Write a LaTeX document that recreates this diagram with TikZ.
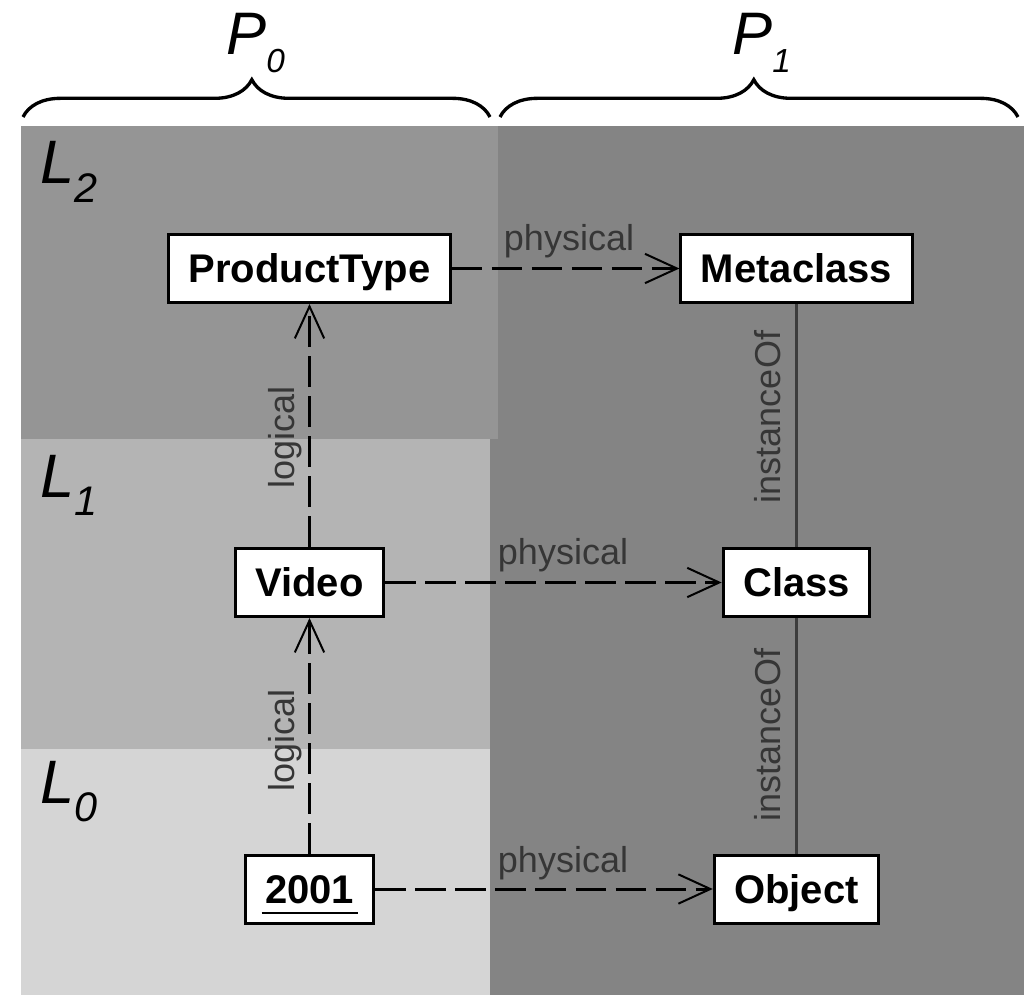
\documentclass[tikz,border=0pt]{standalone}
\usepackage{fontspec}
\setmainfont{Liberation Sans}
\usetikzlibrary{arrows.meta,decorations.pathreplacing}
\definecolor{bgR}{HTML}{848484}
\definecolor{bgLtwo}{HTML}{959595}
\definecolor{bgLone}{HTML}{B4B4B4}
\definecolor{bgLzero}{HTML}{D5D5D5}
\definecolor{lblc}{HTML}{363636}
\definecolor{instc}{HTML}{3C3C3C}
\begin{document}
\begin{tikzpicture}[x=0.75pt,y=-0.75pt,
  box/.style={draw=black, line width=2.25pt, fill=white,
    font=\fontsize{30}{36}\selectfont\bfseries,
    inner xsep=15pt, inner ysep=0pt, minimum height=51pt,
    text height=21.5pt, text depth=0pt},
  dashedconn/.style={draw=black, line width=2.25pt, dash pattern=on 23pt off 7pt,
    -{Straight Barb[length=24pt,width=22pt,line width=1.5pt]}},
  instline/.style={draw=instc, line width=2.25pt},
  conlabel/.style={font=\fontsize{27}{30}\selectfont, text=lblc, inner sep=0pt},
  bigital/.style={font=\fontsize{46}{50}\selectfont\itshape, inner sep=0pt, anchor=base west},
  pital/.style={font=\fontsize{45}{50}\selectfont\itshape, inner sep=0pt, anchor=base west},
  bracepath/.style={line width=2.5pt, decorate,
    decoration={brace, amplitude=28pt, aspect=0.49}}
]
\useasboundingbox (0,0) rectangle (1024,995);
\fill[white] (0,0) rectangle (1024,995);

% backgrounds
\fill[bgR] (490,126) rectangle (1024,995);
\fill[bgLtwo] (21,126) rectangle (498,439);
\fill[bgLone] (21,439) rectangle (490,749);
\fill[bgLzero] (21,749) rectangle (490,995);

% braces and P labels
\draw[bracepath] (23,117) -- (490,117);
\draw[bracepath] (500,117) -- (1018,117);
\node[pital] (pzero) at (226,55) {P\raisebox{-13.5pt}{\fontsize{25}{28}\selectfont 0}};
\node[pital] (pone) at (732,55) {P\raisebox{-13.5pt}{\fontsize{25}{28}\selectfont 1}};

% layer labels
\node[bigital] (ltwo) at (40,184) {L\raisebox{-14pt}{\fontsize{31}{34}\selectfont 2}};
\node[bigital] (lone) at (40,497) {L\raisebox{-14pt}{\fontsize{31}{34}\selectfont 1}};
\node[bigital] (lzero) at (40,803) {L\raisebox{-14pt}{\fontsize{31}{34}\selectfont 0}};

% nodes
\node[box] (pt) at (309.5,268.5) {ProductType};
\node[box] (meta) at (796.5,268.5) {Metaclass};
\node[box] (video) at (309.5,582.5) {Video};
\node[box] (class) at (796.5,582.5) {Class};
\node[box] (yr) at (309.5,889) {2001};
\node[box] (obj) at (796.5,889) {Object};
\draw[line width=2.2pt] ([shift={(-48,24)}]yr.center) -- ([shift={(48,24)}]yr.center);

% physical connectors
\draw[dashedconn] (pt) -- (meta);
\draw[dashedconn] (video) -- (class);
\draw[dashedconn] (yr) -- (obj);
\node[conlabel, anchor=base] (phystwo) at (569,250) {physical};
\node[conlabel, anchor=base] (physone) at (563,564) {physical};
\node[conlabel, anchor=base] (physzero) at (563,872) {physical};

% logical connectors
\draw[dashedconn] (yr.north) -- (video.south);
\draw[dashedconn] (video.north) -- (pt.south);
\node[conlabel, rotate=90, anchor=base] (logtwo) at (294,437) {logical};
\node[conlabel, rotate=90, anchor=base] (logone) at (294,740) {logical};

% instanceOf
\draw[instline] (meta.south) -- (class.north);
\draw[instline] (class.south) -- (obj.north);
\node[conlabel, rotate=90, anchor=base] (insttwo) at (780,417) {instanceOf};
\node[conlabel, rotate=90, anchor=base] (instone) at (780,735) {instanceOf};
\end{tikzpicture}
\end{document}
